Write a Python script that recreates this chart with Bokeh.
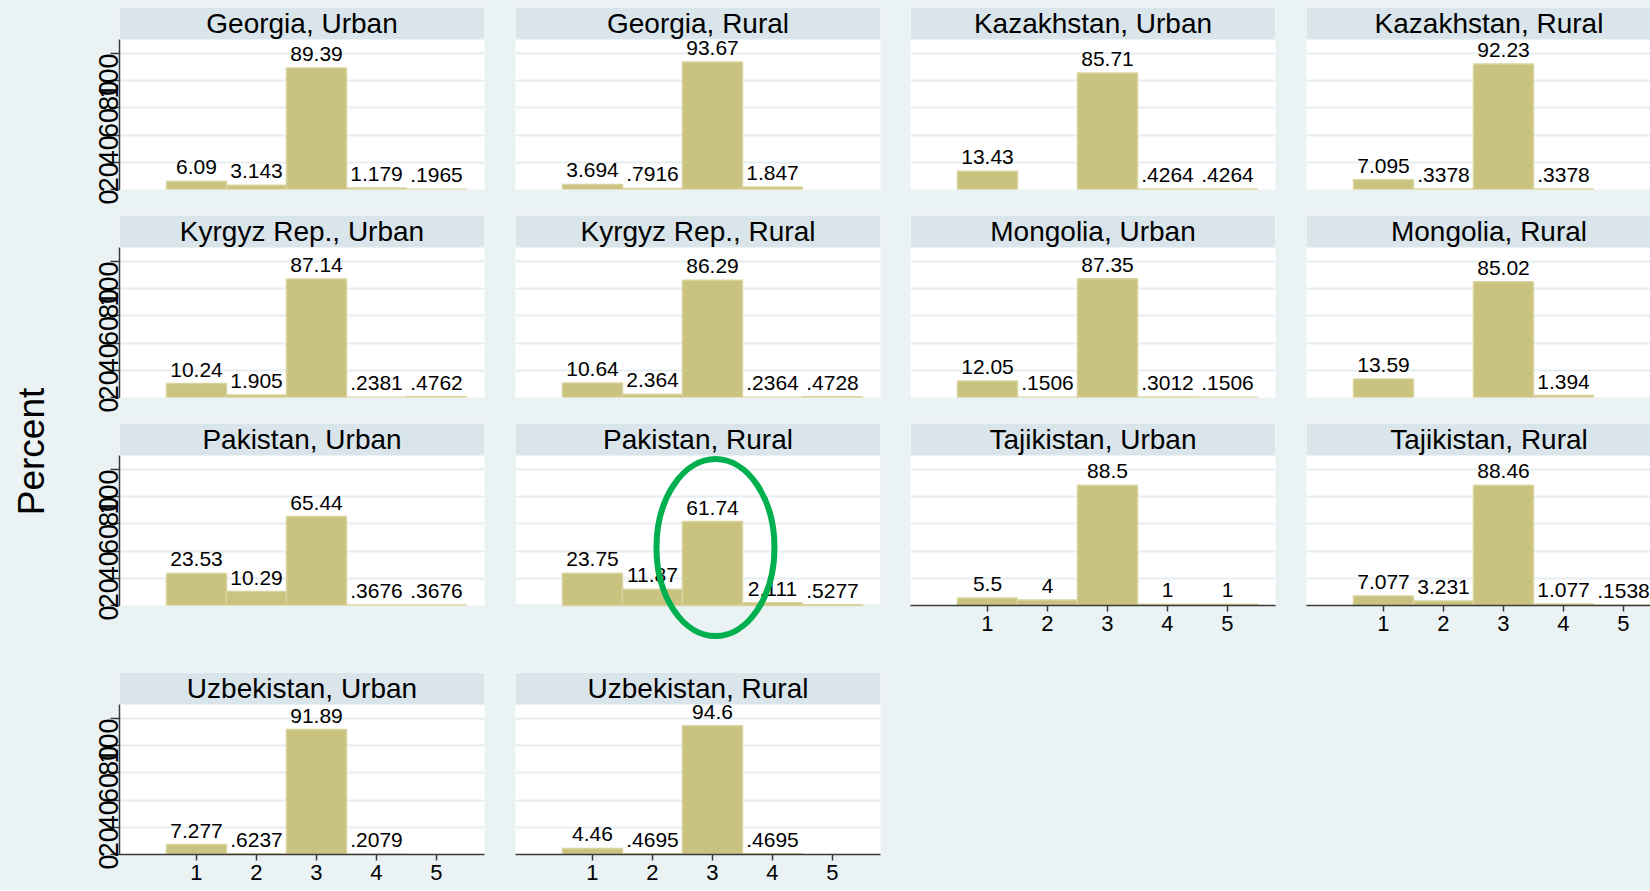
import math
from bokeh.plotting import figure
from bokeh.models import Range1d, FixedTicker, ColumnDataSource, BoxAnnotation, Spacer, Label
from bokeh.layouts import row, column
from bokeh.core.properties import value
from bokeh.embed import file_html
from bokeh.resources import INLINE

# ---------------- data ----------------
categories = [1, 2, 3, 4, 5]
countries = ["Georgia", "Kazakhstan", "Kyrgyz Rep.", "Mongolia",
             "Pakistan", "Tajikistan", "Uzbekistan"]
areas = ["Urban", "Rural"]

georgia_urban = [6.09, 3.143, 89.39, 1.179, 0.1965]
georgia_rural = [3.694, 0.7916, 93.67, 1.847, None]
kazakhstan_urban = [13.43, None, 85.71, 0.4264, 0.4264]
kazakhstan_rural = [7.095, 0.3378, 92.23, 0.3378, None]
kyrgyz_urban = [10.24, 1.905, 87.14, 0.2381, 0.4762]
kyrgyz_rural = [10.64, 2.364, 86.29, 0.2364, 0.4728]
mongolia_urban = [12.05, 0.1506, 87.35, 0.3012, 0.1506]
mongolia_rural = [13.59, None, 85.02, 1.394, None]
pakistan_urban = [23.53, 10.29, 65.44, 0.3676, 0.3676]
pakistan_rural = [23.75, 11.87, 61.74, 2.111, 0.5277]
tajikistan_urban = [5.5, 4, 88.5, 1, 1]
tajikistan_rural = [7.077, 3.231, 88.46, 1.077, 0.1538]
uzbekistan_urban = [7.277, 0.6237, 91.89, 0.2079, None]
uzbekistan_rural = [4.46, 0.4695, 94.6, 0.4695, None]

panel_values = [georgia_urban, georgia_rural, kazakhstan_urban, kazakhstan_rural,
                kyrgyz_urban, kyrgyz_rural, mongolia_urban, mongolia_rural,
                pakistan_urban, pakistan_rural, tajikistan_urban, tajikistan_rural,
                uzbekistan_urban, uzbekistan_rural]

y_ticks = [0, 20, 40, 60, 80, 100]
x_ticks = [1, 2, 3, 4, 5]
y_label = "Percent"
highlight_panel = "Pakistan, Rural"
highlight_category = 3

# ---------------- style ----------------
BG = "#EAF2F3"
HDR = "#D9E5EA"
BAR = "#CAC27F"
BAR_EDGE = "#D9D49F"
GRID = "#E6EEF0"
AXIS = "#3A3A3A"
RING = "#00B04F"
FONT = "Liberation Sans"

PX_PER_X = 60.0
X_START = -0.283
PX_PER_Y = 1.36
FRAME_H = 150
HEADER_H = 32
FULL_W = 365
LEFT_W = 58
col_frame_w = [365, 365, 365, 344]
col_left = [61, 0, 0, 0]
col_right = [31, 30, 31, 0]
row_top = [7, 0, 0, 0]
row_bottom = [26, 26, 67, 36]
NCOL = 4
TOTAL_H = sum(row_top) + 4 * (HEADER_H + FRAME_H) + sum(row_bottom)


def fmt(v):
    s = f"{v:.4g}"
    if s.startswith("0."):
        s = s[1:]
    return s


def make_panel(idx, r, c):
    name = f"{countries[idx // 2]}, {areas[idx % 2]}"
    vals = panel_values[idx]
    fw = col_frame_w[c]
    show_x = idx + NCOL >= len(panel_values)
    show_y = c == 0
    ext = 36 if name == highlight_panel else 0
    y_top_plot = FRAME_H / PX_PER_Y
    y_top = (FRAME_H + HEADER_H) / PX_PER_Y

    p = figure(frame_width=fw, frame_height=HEADER_H + FRAME_H + ext,
               min_border_left=col_left[c], min_border_right=col_right[c],
               min_border_top=row_top[r], min_border_bottom=row_bottom[r] - ext,
               x_range=Range1d(X_START, X_START + fw / PX_PER_X),
               y_range=Range1d(-ext / PX_PER_Y, y_top),
               x_axis_location="below" if show_x else None,
               y_axis_location="left" if show_y else None,
               toolbar_location=None, output_backend="svg", title=None)
    p.outline_line_color = None
    p.border_fill_color = BG
    if ext:
        # the ring runs below the plot area, onto the page background
        p.background_fill_color = BG
        p.add_layout(BoxAnnotation(bottom=0, fill_color="white", fill_alpha=1.0,
                                   line_color=None, level="image"))
    else:
        p.background_fill_color = "white"
    p.xgrid.visible = False
    p.ygrid.ticker = FixedTicker(ticks=y_ticks)
    p.ygrid.grid_line_color = GRID
    p.ygrid.grid_line_width = 2

    xs = [cat for cat, v in zip(categories, vals) if v is not None]
    tops = [v for v in vals if v is not None]
    labels = [fmt(v) for v in tops]
    src = ColumnDataSource(dict(x=xs, top=tops, label=labels))
    p.vbar(x="x", top="top", bottom=0, width=1.0, source=src,
           fill_color=BAR, line_color=BAR_EDGE, line_width=1.5)
    p.text(x="x", y="top", text="label", source=src, text_align="center",
           text_baseline="bottom", y_offset=-7, text_font=value(FONT),
           text_font_size="21px", text_color="#000000")

    if ext:
        hv = vals[categories.index(highlight_category)]
        p.ellipse(x=[highlight_category + 0.05], y=[hv * 0.69],
                  width=118, height=177, width_units="screen", height_units="screen",
                  fill_color=None, line_color=RING, line_width=6)

    # panel header strip (covers the tops of labels that run into it)
    p.add_layout(BoxAnnotation(bottom=y_top_plot, fill_color=HDR, fill_alpha=1.0,
                               line_color=None, level="overlay"))
    p.add_layout(Label(x=X_START + FULL_W / PX_PER_X / 2,
                       y=(FRAME_H + HEADER_H / 2) / PX_PER_Y,
                       text=name, text_align="center", text_baseline="middle",
                       text_font=FONT, text_font_size="28px", text_color="#000000",
                       level="overlay"))

    if show_y:
        ax = p.yaxis
        ax.ticker = FixedTicker(ticks=y_ticks)
        ax.bounds = (0, y_top_plot)
        ax.major_label_orientation = math.pi / 2
        ax.major_label_text_font = FONT
        ax.major_label_text_font_size = "27px"
        ax.major_label_text_color = "#000000"
        ax.major_label_standoff = 2
        ax.major_tick_out = 9
        ax.major_tick_in = 0
        ax.minor_tick_line_color = None
        ax.axis_line_color = AXIS
        ax.major_tick_line_color = AXIS
        ax.axis_line_width = 1.5
        ax.major_tick_line_width = 1.5
    if show_x:
        ax = p.xaxis
        ax.ticker = FixedTicker(ticks=x_ticks)
        ax.major_label_text_font = FONT
        ax.major_label_text_font_size = "22px"
        ax.major_label_text_color = "#000000"
        ax.major_label_standoff = 4
        ax.major_tick_out = 6
        ax.major_tick_in = 0
        ax.minor_tick_line_color = None
        ax.axis_line_color = AXIS
        ax.major_tick_line_color = AXIS
        ax.axis_line_width = 1.5
        ax.major_tick_line_width = 1.5

    return p


rows = []
n = len(panel_values)
for r in range((n + NCOL - 1) // NCOL):
    blocks = []
    for c in range(NCOL):
        idx = r * NCOL + c
        if idx < n:
            blocks.append(make_panel(idx, r, c))
    if len(blocks) < NCOL:
        used = sum(col_left[c] + col_frame_w[c] + col_right[c] for c in range(len(blocks)))
        total = sum(col_left[c] + col_frame_w[c] + col_right[c] for c in range(NCOL))
        blocks.append(Spacer(width=total - used,
                             height=row_top[r] + HEADER_H + FRAME_H + row_bottom[r]))
    rows.append(row(*blocks))

lab = figure(frame_width=LEFT_W, frame_height=TOTAL_H, min_border=0,
             x_range=Range1d(0, LEFT_W), y_range=Range1d(0, TOTAL_H),
             x_axis_location=None, y_axis_location=None,
             toolbar_location=None, output_backend="svg", title=None)
lab.xgrid.visible = False
lab.ygrid.visible = False
lab.background_fill_color = BG
lab.border_fill_color = BG
lab.outline_line_color = None
lab.text(x=[31], y=[TOTAL_H - 451], text=[y_label], angle=math.pi / 2,
         text_align="center", text_baseline="middle", text_font=value(FONT),
         text_font_size="37px", text_color="#000000")

layout = row(lab, column(*rows, styles={"background-color": BG}),
             styles={"background-color": BG})

open("out.html", "w").write(file_html(layout, INLINE))
